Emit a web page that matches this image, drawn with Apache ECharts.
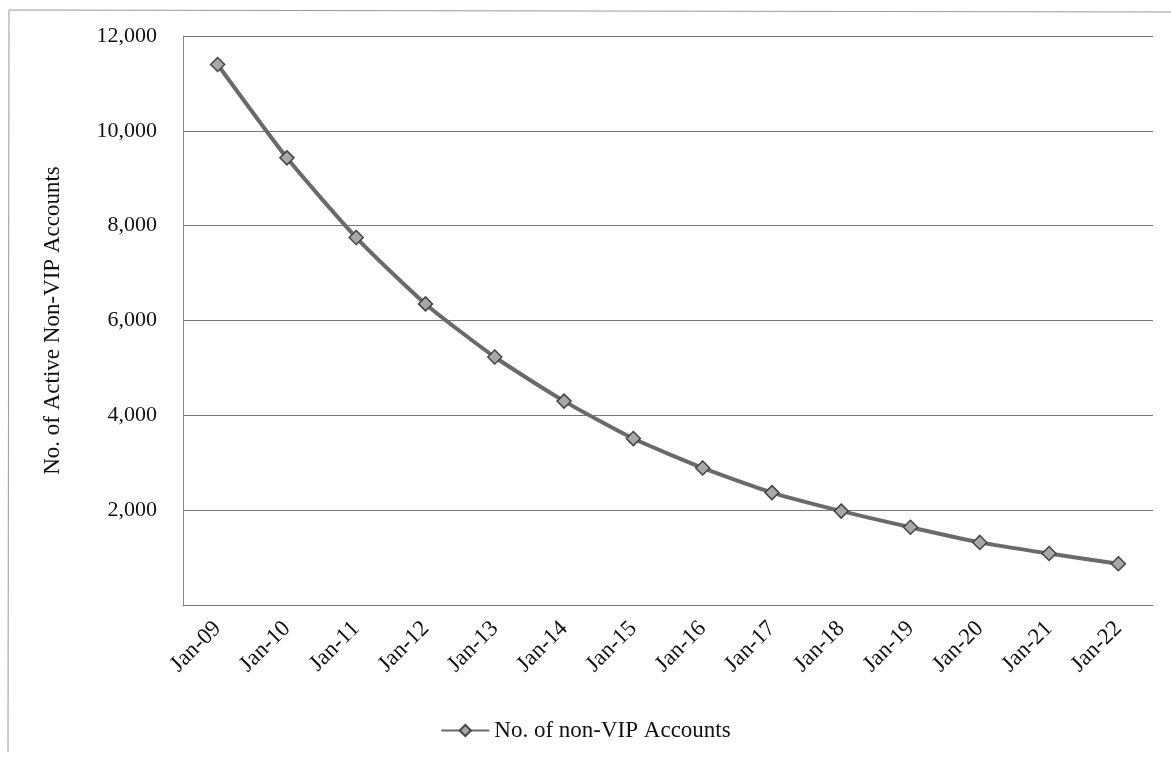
<!DOCTYPE html>
<html>
<head>
<meta charset="utf-8">
<script src="https://cdn.jsdelivr.net/npm/echarts@6/dist/echarts.min.js"></script>
<style>
  html, body { margin: 0; padding: 0; background: #fff; }
  #chart { width: 1171px; height: 769px; }
</style>
</head>
<body>
<div id="chart"></div>
<script>
// Month labels along the horizontal axis
const months = ['Jan-09', 'Jan-10', 'Jan-11', 'Jan-12', 'Jan-13', 'Jan-14', 'Jan-15',
                'Jan-16', 'Jan-17', 'Jan-18', 'Jan-19', 'Jan-20', 'Jan-21', 'Jan-22'];
// Active non-VIP accounts at each January
const nonVipAccounts = [11400, 9430, 7750, 6350, 5230, 4300, 3510,
                        2890, 2370, 1980, 1640, 1320, 1085, 870];

const seriesName = 'No. of non-VIP Accounts';
const yTitle = 'No. of Active Non-VIP Accounts';
const font = '"Liberation Serif", "DejaVu Serif", serif';

const chart = echarts.init(document.getElementById('chart'));
chart.setOption({
  backgroundColor: '#fff',
  textStyle: { fontFamily: font, color: '#111' },
  grid: { left: 183, right: 18, top: 36, bottom: 164 },
  graphic: [
    { type: 'line', shape: { x1: 9, y1: 10, x2: 1171, y2: 12 },
      style: { stroke: '#999', lineWidth: 1 } },
    { type: 'line', shape: { x1: 9, y1: 10, x2: 8, y2: 752 },
      style: { stroke: '#999', lineWidth: 1 } }
  ],
  legend: {
    bottom: 22,
    left: 'center',
    itemWidth: 48,
    itemHeight: 14,
    itemGap: 6,
    textStyle: { fontFamily: font, fontSize: 23, color: '#111' },
    data: [seriesName]
  },
  xAxis: {
    type: 'category',
    data: months,
    boundaryGap: true,
    axisLine: { show: true, lineStyle: { color: '#777', width: 1 } },
    axisTick: { show: false },
    axisLabel: {
      rotate: 45,
      margin: 20,
      fontFamily: font,
      fontSize: 23,
      color: '#111'
    }
  },
  yAxis: {
    type: 'value',
    min: 0,
    max: 12000,
    interval: 2000,
    name: yTitle,
    nameLocation: 'middle',
    nameGap: 119,
    nameTextStyle: { fontFamily: font, fontSize: 23, color: '#111' },
    axisLine: { show: true, lineStyle: { color: '#888', width: 1 } },
    axisTick: { show: false },
    splitLine: { show: true, lineStyle: { color: '#777', width: 1 } },
    axisLabel: {
      margin: 26,
      fontFamily: font,
      fontSize: 22,
      color: '#111',
      formatter: function (v) {
        return v === 0 ? '' : v.toLocaleString('en-US');
      }
    }
  },
  series: [{
    name: seriesName,
    type: 'line',
    data: nonVipAccounts,
    symbol: 'diamond',
    symbolSize: 14,
    smooth: 0.2,
    lineStyle: { color: '#6a6a6a', width: 4 },
    itemStyle: { color: '#a8a8a8', borderColor: '#444', borderWidth: 1.5 },
    emphasis: { disabled: true }
  }],
  animation: false
});
</script>
</body>
</html>
